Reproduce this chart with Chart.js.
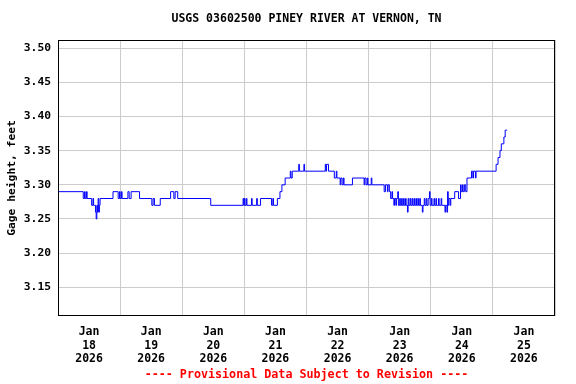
<!DOCTYPE html>
<html>
<head>
<meta charset="utf-8">
<script src="https://cdn.jsdelivr.net/npm/chart.js@4"></script>
<style>
  html, body { margin: 0; padding: 0; background: #fff; }
  #wrap { width: 576px; height: 384px; }
</style>
</head>
<body>
<div id="wrap"><canvas id="gageChart"></canvas></div>
<script>
// Horas desde 2026-01-18 00:00 y nivel (ft) en cada cambio de valor
const horas = [
    0, 9.75, 10.25, 10.5, 11, 11.25, 13, 13.5, 13.75, 14.5, 14.75, 15, 15.25, 15.5, 15.75, 16, 16.25,
    21.25, 23.25, 23.75, 24, 24.5, 24.75, 27, 27.5, 28.25, 31.5, 36.25, 36.75, 37.25, 39.5,
    43.5, 44.75, 45.25, 46.25, 59,
    71.5, 71.75, 72, 72.25, 72.75, 73, 74.75, 75, 76.75, 77, 78.25, 82.5, 83, 83.25,
    84.75, 85.75, 86.5, 87.75, 89.75, 90, 90.5, 93, 93.25, 95, 95.25,
    103.25, 103.5, 103.75, 104.5, 106.75, 107.5, 107.75, 109, 109.25, 109.75, 110.25, 110.5,
    113.75, 118.25, 118.5, 119, 119.5, 119.75, 121, 121.25,
    126, 126.5, 127.25, 127.5, 128, 128.5, 129, 129.25, 129.75, 130, 130.5, 130.75, 131.25, 131.5,
    132, 132.25, 132.75, 133, 133.5, 133.75, 134.25, 134.5, 135, 135.25, 135.5, 136, 136.25,
    136.75, 137, 137.5, 137.75, 138.25, 138.5, 139, 139.25, 139.75, 140, 140.75, 141, 141.5,
    141.75, 142.25, 142.5, 143, 143.5, 143.75, 144.25, 144.5, 145.25, 145.5, 146, 146.25,
    147, 147.25, 148, 148.25, 149.5, 149.75, 150.25, 150.5, 150.75, 151, 151.5, 151.75,
    153.25, 154.75, 155.5, 155.75, 156.25, 156.5, 157, 157.5, 158, 159.75, 160.25, 160.5,
    161.25, 161.5, 169.25, 170, 170.75, 171.25, 172.25, 172.75, 173.5
];
const nivel = [
    3.29, 3.28, 3.29, 3.28, 3.29, 3.28, 3.27, 3.28, 3.27, 3.26, 3.25, 3.27, 3.26, 3.28, 3.26, 3.27, 3.28,
    3.29, 3.28, 3.29, 3.28, 3.29, 3.28, 3.29, 3.28, 3.29, 3.28, 3.27, 3.28, 3.27, 3.28,
    3.29, 3.28, 3.29, 3.28, 3.27,
    3.28, 3.27, 3.28, 3.27, 3.28, 3.27, 3.28, 3.27, 3.28, 3.27, 3.28, 3.27, 3.28, 3.27,
    3.28, 3.29, 3.30, 3.31, 3.32, 3.31, 3.32, 3.33, 3.32, 3.33, 3.32,
    3.33, 3.32, 3.33, 3.32, 3.31, 3.32, 3.31, 3.30, 3.31, 3.30, 3.31, 3.30,
    3.31, 3.30, 3.31, 3.30, 3.31, 3.30, 3.31, 3.30,
    3.29, 3.30, 3.29, 3.30, 3.29, 3.28, 3.29, 3.28, 3.27, 3.28, 3.27, 3.28, 3.29, 3.27,
    3.28, 3.27, 3.28, 3.27, 3.28, 3.27, 3.28, 3.27, 3.26, 3.28, 3.27, 3.28, 3.27,
    3.28, 3.27, 3.28, 3.27, 3.28, 3.27, 3.28, 3.27, 3.28, 3.27, 3.26, 3.27, 3.28,
    3.27, 3.28, 3.27, 3.28, 3.29, 3.27, 3.28, 3.27, 3.28, 3.27, 3.28, 3.27,
    3.28, 3.27, 3.28, 3.27, 3.26, 3.27, 3.26, 3.29, 3.27, 3.28, 3.27, 3.28,
    3.29, 3.28, 3.30, 3.29, 3.30, 3.29, 3.30, 3.29, 3.31, 3.32, 3.31, 3.32,
    3.31, 3.32, 3.33, 3.34, 3.35, 3.36, 3.37, 3.38, 3.38
];

const ticksY       = [3.15, 3.20, 3.25, 3.30, 3.35, 3.40, 3.45, 3.50];
const ticksX       = [0, 12, 24, 36, 48, 60, 72, 84, 96, 108, 120, 132, 144, 156, 168, 180, 192];
const diasEtiqueta = ['18', '19', '20', '21', '22', '23', '24', '25'];

const TITULO = 'USGS 03602500 PINEY RIVER AT VERNON, TN';
const AVISO  = '---- Provisional Data Subject to Revision ----';

const FUENTE = "'DejaVu Sans Mono', 'Liberation Mono', monospace";

// Marco negro del área de trazado + título y aviso centrados sobre ella
const marcoPlugin = {
    id: 'marco',
    afterDraw(chart) {
        const { ctx, chartArea: a } = chart;
        ctx.save();
        ctx.strokeStyle = '#000';
        ctx.lineWidth = 1;
        ctx.strokeRect(Math.round(a.left) + 0.5, Math.round(a.top) + 0.5,
            Math.round(a.right - a.left) - 1, Math.round(a.bottom - a.top) - 1);

        const cx = (a.left + a.right) / 2;
        ctx.textAlign = 'center';
        ctx.textBaseline = 'middle';
        ctx.fillStyle = '#000';
        ctx.font = `bold 11.5px ${FUENTE}`;
        ctx.fillText(TITULO, cx, 19);
        ctx.fillStyle = '#ff0000';
        ctx.font = `bold 11.7px ${FUENTE}`;
        ctx.fillText(AVISO, cx, 375);
        ctx.restore();
    }
};

const puntos = horas.map((h, i) => ({ x: h, y: nivel[i] }));

new Chart(document.getElementById('gageChart'), {
    type: 'line',
    data: {
        datasets: [{
            label: 'Gage height',
            data: puntos,
            borderColor: '#0000ff',
            borderWidth: 1,
            pointRadius: 0,
            stepped: true,
            fill: false
        }]
    },
    options: {
        responsive: true,
        maintainAspectRatio: false,
        animation: false,
        layout: { padding: { left: 0, right: 21, top: 40, bottom: 19.5 } },
        plugins: {
            legend: { display: false },
            tooltip: { enabled: false }
        },
        scales: {
            x: {
                type: 'linear',
                min: 0,
                max: 192,
                afterBuildTicks: s => { s.ticks = ticksX.map(v => ({ value: v })); },
                afterFit: s => { s.height = 48.5; },
                grid: {
                    drawTicks: false,
                    color: c => (c.tick && c.tick.value % 24 === 0) ? '#cccccc' : 'rgba(0,0,0,0)'
                },
                border: { display: false },
                ticks: {
                    padding: 9,
                    maxRotation: 0,
                    autoSkip: false,
                    color: '#000',
                    font: { family: FUENTE, size: 11.5, weight: 'bold' },
                    callback: v => (v % 24 === 12) ? ['Jan', diasEtiqueta[(v - 12) / 24], '2026'] : ''
                }
            },
            y: {
                min: 3.108,
                max: 3.512,
                afterBuildTicks: s => { s.ticks = ticksY.map(v => ({ value: v })); },
                afterFit: s => { s.width = 58; },
                grid: { drawTicks: false, color: '#cccccc' },
                border: { display: false },
                ticks: {
                    padding: 7,
                    color: '#000',
                    font: { family: FUENTE, size: 11.3, weight: 'bold' },
                    callback: v => v.toFixed(2)
                },
                title: {
                    display: true,
                    text: 'Gage height, feet',
                    color: '#000',
                    font: { family: FUENTE, size: 11.3, weight: 'bold' },
                    padding: { top: 5, bottom: 0 }
                }
            }
        }
    },
    plugins: [marcoPlugin]
});
</script>
</body>
</html>
